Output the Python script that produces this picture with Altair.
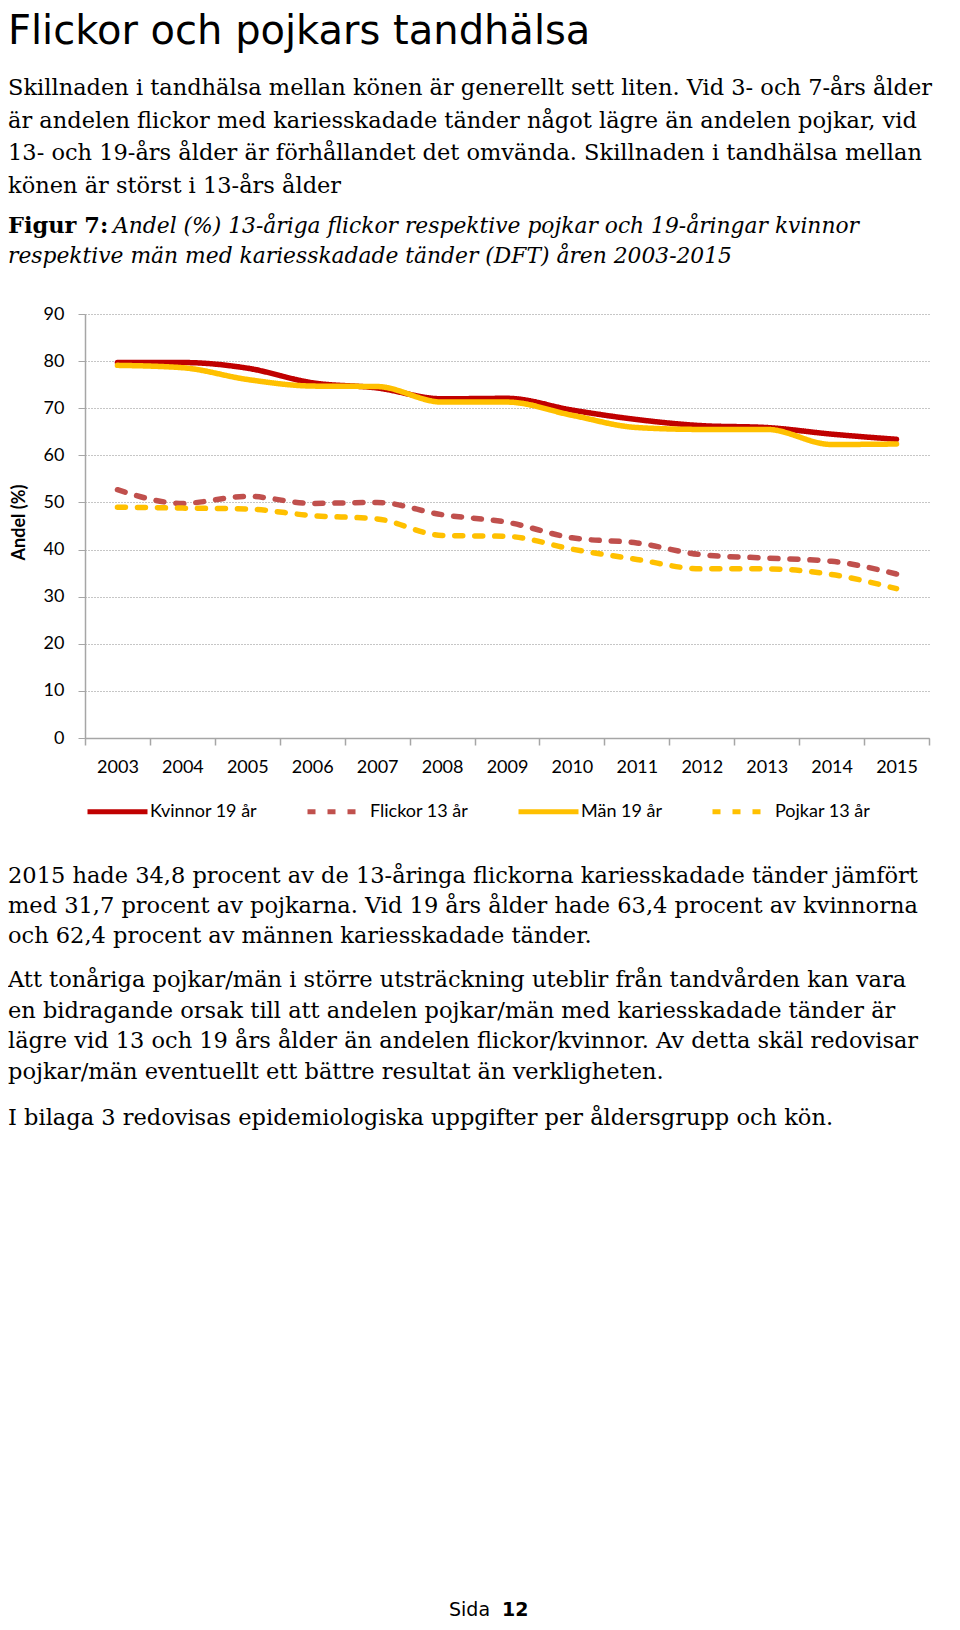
import altair as alt
import pandas as pd

# ---- data ----
years = [str(y) for y in range(2003, 2016)]
kvinnor_19 = [79.7, 79.7, 78.5, 75.4, 74.3, 72.0, 72.1, 69.6, 67.6, 66.3, 65.9, 64.5, 63.4]
flickor_13 = [52.7, 49.8, 51.3, 49.8, 50.0, 47.4, 45.8, 42.5, 41.4, 38.9, 38.2, 37.5, 34.8]
man_19 = [79.1, 78.6, 76.1, 74.7, 74.6, 71.3, 71.3, 68.5, 65.9, 65.5, 65.5, 62.3, 62.4]
pojkar_13 = [49.0, 48.8, 48.6, 47.2, 46.5, 43.0, 42.8, 40.1, 37.9, 35.9, 35.9, 34.7, 31.7]
series = ["Kvinnor 19 år", "Flickor 13 år", "Män 19 år", "Pojkar 13 år"]
values = [kvinnor_19, flickor_13, man_19, pojkar_13]
colors = ["#C00000", "#C0504D", "#FFC000", "#FFC000"]
dashes = [[1, 0], [8, 12], [1, 0], [8, 12]]
y_ticks = list(range(0, 91, 10))

title_text = "Flickor och pojkars tandhälsa"
para1 = [
    "Skillnaden i tandhälsa mellan könen är generellt sett liten. Vid 3- och 7-års ålder",
    "är andelen flickor med kariesskadade tänder något lägre än andelen pojkar, vid",
    "13- och 19-års ålder är förhållandet det omvända. Skillnaden i tandhälsa mellan",
    "könen är störst i 13-års ålder",
]
fig_label = "Figur 7:"
fig_line1 = "Andel (%) 13-åriga flickor respektive pojkar och 19-åringar kvinnor"
fig_line2 = "respektive män med kariesskadade tänder (DFT) åren 2003-2015"
para2 = [
    "2015 hade 34,8 procent av de 13-åringa flickorna kariesskadade tänder jämfört",
    "med 31,7 procent av pojkarna. Vid 19 års ålder hade 63,4 procent av kvinnorna",
    "och 62,4 procent av männen kariesskadade tänder.",
]
para3 = [
    "Att tonåriga pojkar/män i större utsträckning uteblir från tandvården kan vara",
    "en bidragande orsak till att andelen pojkar/män med kariesskadade tänder är",
    "lägre vid 13 och 19 års ålder än andelen flickor/kvinnor. Av detta skäl redovisar",
    "pojkar/män eventuellt ett bättre resultat än verkligheten.",
]
para4 = ["I bilaga 3 redovisas epidemiologiska uppgifter per åldersgrupp och kön."]
page_word = "Sida"
page_num = "12"

rows = []
for s, vals in zip(series, values):
    for yr, v in zip(years, vals):
        rows.append({"year": yr, "value": v, "serie": s})
df = pd.DataFrame(rows)

AXIS_GRAY = "#A6A6A6"

x_enc = alt.X(
    "year:O",
    bandPosition=0.5,
    scale=alt.Scale(type="band", paddingInner=0, paddingOuter=0),
    axis=alt.Axis(
        title=None, labelAngle=0, tickBand="extent", grid=False,
        domainColor=AXIS_GRAY, domainWidth=1.5, tickColor=AXIS_GRAY, tickWidth=1.5,
        tickSize=7, labelPadding=13, labelFont="Lato", labelFontSize=18, labelColor="#000",
    ),
)
y_enc = alt.Y(
    "value:Q",
    scale=alt.Scale(domain=[0, 90]),
    axis=alt.Axis(
        values=y_ticks, title="Andel (%)", titleFont="Lato", titleFontSize=18,
        titleFontWeight="bold", titleColor="#000", titleX=-66, titleY=208,
        titleAngle=270, titleAlign="center", titleBaseline="middle",
        grid=True, gridColor="#8C8C8C", gridDash=[1, 2], gridWidth=1,
        domainColor=AXIS_GRAY, domainWidth=1.5, tickColor=AXIS_GRAY, tickWidth=1,
        tickSize=7, labelPadding=14, labelFont="Lato", labelFontSize=18, labelColor="#000",
    ),
)
color_enc = alt.Color("serie:N", scale=alt.Scale(domain=series, range=colors), title=None)
dash_enc = alt.StrokeDash("serie:N", scale=alt.Scale(domain=series, range=dashes), title=None)

layers = []
for s in series:
    layers.append(
        alt.Chart(df)
        .transform_filter(alt.datum.serie == s)
        .mark_line(strokeWidth=5.5, strokeCap="round", strokeJoin="round", interpolate="monotone")
        .encode(x=x_enc, y=y_enc, color=color_enc, strokeDash=dash_enc)
    )

one = alt.Data(values=[{"k": 1}])


def text_block(lines, x, y, font, size, lh=0, weight="normal", style="normal"):
    return alt.Chart(one).mark_text(
        text="\n".join(lines), lineBreak="\n", lineHeight=lh if lh else size,
        font=font, fontSize=size, fontWeight=weight, fontStyle=style,
        align="left", baseline="alphabetic", color="#000",
    ).encode(x=alt.value(x), y=alt.value(y))


SERIF = "DejaVu Serif"
FS = 22.5
FI = 21.8
LX = -77
texts = [
    text_block([title_text], LX, -270, "DejaVu Sans", 40),
    text_block(para1, LX, -219, SERIF, FS, lh=32.5),
    text_block([fig_label], LX, -81, SERIF, FS, weight="bold"),
    text_block([fig_line1], 28, -81, SERIF, FI, style="italic"),
    text_block([fig_line2], LX, -51, SERIF, FI, style="italic"),
    text_block(para2, LX, 569, SERIF, FS, lh=30),
    text_block(para3, LX, 673, SERIF, FS, lh=30.5),
    text_block(para4, LX, 811, SERIF, FS),
    text_block([page_word], 364, 1302, "DejaVu Sans", 19),
    text_block([page_num], 417, 1302, "DejaVu Sans", 19, weight="bold"),
]

chart = (
    alt.layer(*layers, *texts)
    .properties(
        width=844, height=424,
        autosize=alt.AutoSizeParams(type="none"),
        padding={"left": 77, "top": 306, "right": 23, "bottom": 882},
    )
    .configure_view(strokeWidth=0)
    .configure_legend(
        orient="none", legendX=0, legendY=465, direction="horizontal", columns=4,
        symbolType="stroke", symbolSize=3600, symbolStrokeWidth=5,
        labelFont="Lato", labelFontSize=18, labelColor="#000", labelOffset=0,
        columnPadding=39, padding=0, titleFontSize=0,
    )
)

chart.save("out.html", embed_options={"renderer": "svg", "actions": False})
